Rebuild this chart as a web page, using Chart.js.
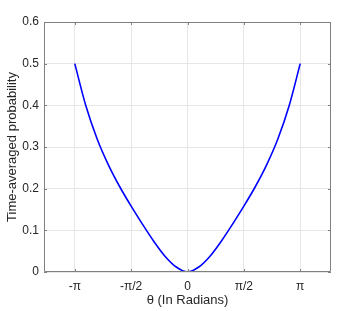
<!DOCTYPE html>
<html>
<head>
<meta charset="utf-8">
<script src="https://cdn.jsdelivr.net/npm/chart.js@4/dist/chart.umd.min.js"></script>
<style>
  html, body { margin: 0; padding: 0; background: #fff; }
  #wrap { width: 354px; height: 311px; }
</style>
</head>
<body>
<div id="wrap"><canvas id="grafik" width="354" height="311"></canvas></div>
<script>
// theta (radians) and time-averaged probability
const theta = [-3.142, -2.827, -2.513, -2.199, -1.885, -1.571, -1.257, -0.942, -0.628, -0.314, 0,
               0.314, 0.628, 0.942, 1.257, 1.571, 1.885, 2.199, 2.513, 2.827, 3.142];
const prob = [0.5, 0.397, 0.318, 0.256, 0.204, 0.158, 0.115, 0.074, 0.038, 0.012, 0,
              0.012, 0.038, 0.074, 0.115, 0.158, 0.204, 0.256, 0.318, 0.397, 0.5];

const xTickVals = [-Math.PI, -Math.PI / 2, 0, Math.PI / 2, Math.PI];
const xTickLabels = ["-π", "-π/2", "0", "π/2", "π"];
const yTickVals = [0, 0.1, 0.2, 0.3, 0.4, 0.5, 0.6];
const yTickLabels = ["0", "0.1", "0.2", "0.3", "0.4", "0.5", "0.6"];

const axisColor = "#808080";
const textColor = "#262626";
const gridColor = "#e6e6e6";

// box round the plot plus inward tick marks on all four sides
const kotakPlugin = {
    id: "kotak",
    afterDatasetsDraw(chart) {
        const ctx = chart.ctx;
        const a = chart.chartArea;
        const sx = chart.scales.x, sy = chart.scales.y;
        const tl = 3;
        ctx.save();
        ctx.strokeStyle = axisColor;
        ctx.lineWidth = 1;
        ctx.beginPath();
        ctx.rect(a.left + 0.5, a.top + 0.5, a.right - a.left - 1, a.bottom - a.top - 1);
        xTickVals.forEach(v => {
            const px = Math.round(sx.getPixelForValue(v)) + 0.5;
            ctx.moveTo(px, a.bottom); ctx.lineTo(px, a.bottom - tl);
            ctx.moveTo(px, a.top); ctx.lineTo(px, a.top + tl);
        });
        yTickVals.forEach(v => {
            const py = Math.round(sy.getPixelForValue(v)) + 0.5;
            ctx.moveTo(a.left, py); ctx.lineTo(a.left + tl, py);
            ctx.moveTo(a.right, py); ctx.lineTo(a.right - tl, py);
        });
        ctx.stroke();
        ctx.restore();
    }
};

Chart.defaults.font.family = "'Liberation Sans', Arial, sans-serif";

new Chart(document.getElementById("grafik").getContext("2d"), {
    type: "line",
    data: {
        datasets: [{
            data: theta.map((t, i) => ({ x: t, y: prob[i] })),
            borderColor: "#0000ff",
            borderWidth: 1.6,
            pointRadius: 0,
            fill: false,
            cubicInterpolationMode: "monotone"
        }]
    },
    options: {
        responsive: false,
        animation: false,
        layout: { padding: { top: 22, right: 23, left: 0, bottom: 0 } },
        plugins: { legend: { display: false }, tooltip: { enabled: false } },
        scales: {
            x: {
                type: "linear",
                min: -4,
                max: 4,
                afterBuildTicks: s => { s.ticks = xTickVals.map(v => ({ value: v })); },
                afterFit: s => { s.height = 39; },
                ticks: {
                    autoSkip: false,
                    maxRotation: 0,
                    padding: 7,
                    color: textColor,
                    font: { size: 12 },
                    callback: (v, i) => xTickLabels[i]
                },
                grid: { color: gridColor, drawTicks: false },
                border: { display: false },
                title: {
                    display: true,
                    text: "θ (In Radians)",
                    color: textColor,
                    font: { size: 13 },
                    padding: { top: 0, bottom: 3 }
                }
            },
            y: {
                min: 0,
                max: 0.6,
                afterBuildTicks: s => { s.ticks = yTickVals.map(v => ({ value: v })); },
                afterFit: s => { s.width = 44; },
                ticks: {
                    autoSkip: false,
                    padding: 5,
                    color: textColor,
                    font: { size: 12 },
                    callback: (v, i) => yTickLabels[i]
                },
                grid: { color: gridColor, drawTicks: false },
                border: { display: false },
                title: {
                    display: true,
                    text: "Time-averaged probability",
                    color: textColor,
                    font: { size: 13 },
                    padding: { top: 5, bottom: 0 }
                }
            }
        }
    },
    plugins: [kotakPlugin]
});
</script>
</body>
</html>
